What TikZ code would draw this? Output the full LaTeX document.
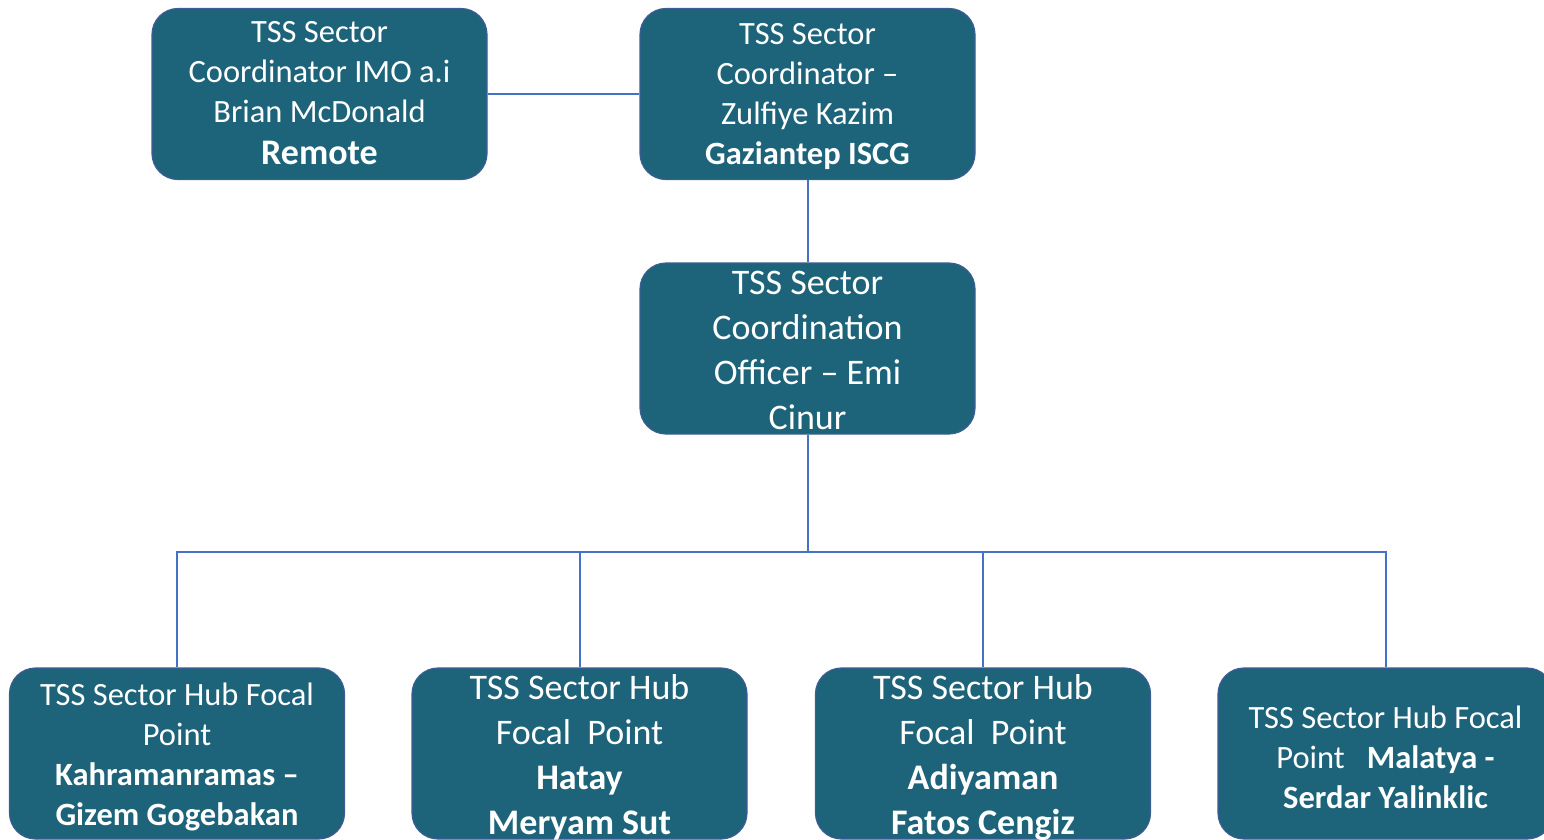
\documentclass[tikz,border=0pt]{standalone}
\usepackage{fontspec}
\setmainfont{Carlito}
\definecolor{boxfill}{RGB}{29,99,121}
\definecolor{boxedge}{RGB}{62,92,150}
\definecolor{linkblue}{RGB}{68,114,196}
\begin{document}
\begin{tikzpicture}[x=1pt,y=-1pt,
  box/.style={draw=boxedge,line width=1.2pt,fill=boxfill,rounded corners=26pt,
    minimum width=335pt,minimum height=171pt,inner sep=0pt},
  txt/.style={text=white,align=center,inner sep=0pt},
  sm/.style={font=\fontsize{32.5}{40}\selectfont},
  lg/.style={font=\fontsize{36}{45}\selectfont},
  link/.style={draw=linkblue,line width=2pt}]
\useasboundingbox (0,0) rectangle (1544,839);
\clip (0,0) rectangle (1544,839);
% boxes
\node[box] (imo) at (319.5,94) {};
\node[box] (coord) at (807.5,94) {};
\node[box] (off) at (807.5,348.5) {};
\node[box] (h1) at (177,753.5) {};
\node[box] (h2) at (579.5,753.5) {};
\node[box] (h3) at (983,753.5) {};
\node[box] (h4) at (1385.5,753.5) {};
% connectors
\coordinate (bus) at (807.5,552);
\draw[link] (imo.east) -- (coord.west);
\draw[link] (coord.south) -- (off.north);
\draw[link] (off.south) -- (bus);
\draw[link] (h1.north) |- (bus) -| (h4.north);
\draw[link] (h2.north) -- (h2.north |- bus);
\draw[link] (h3.north) -- (h3.north |- bus);
% texts
\node[txt,sm] (timo) at (319.5,93.5) {TSS Sector\\Coordinator IMO a.i\\Brian McDonald\\[2pt]{\bfseries\fontsize{36}{40}\selectfont Remote}};
\node[txt,sm] (tcoord) at (807.5,96.5) {TSS Sector\\Coordinator –\\Zulfiye Kazim\\\textbf{Gaziantep ISCG}};
\node[txt,lg] (toff) at (807.5,350) {TSS Sector\\Coordination\\Officer – Emi\\Cinur};
\node[txt,sm] (th1) at (177,756.5) {TSS Sector Hub Focal\\Point\\\textbf{Kahramanramas –}\\\textbf{Gizem Gogebakan}};
\node[txt,lg] (th2) at (579.5,757.5) {TSS Sector Hub\\Focal\ \ Point\\\textbf{Hatay}\\\textbf{Meryam Sut}};
\node[txt,lg] (th3) at (983,757.5) {TSS Sector Hub\\Focal\ \ Point\\\textbf{Adiyaman}\\\textbf{Fatos Cengiz}};
\node[txt,sm] (th4) at (1385.5,757) {TSS Sector Hub Focal\\Point\ \ \ \textbf{Malatya -}\\\textbf{Serdar Yalinklic}};
\end{tikzpicture}
\end{document}
